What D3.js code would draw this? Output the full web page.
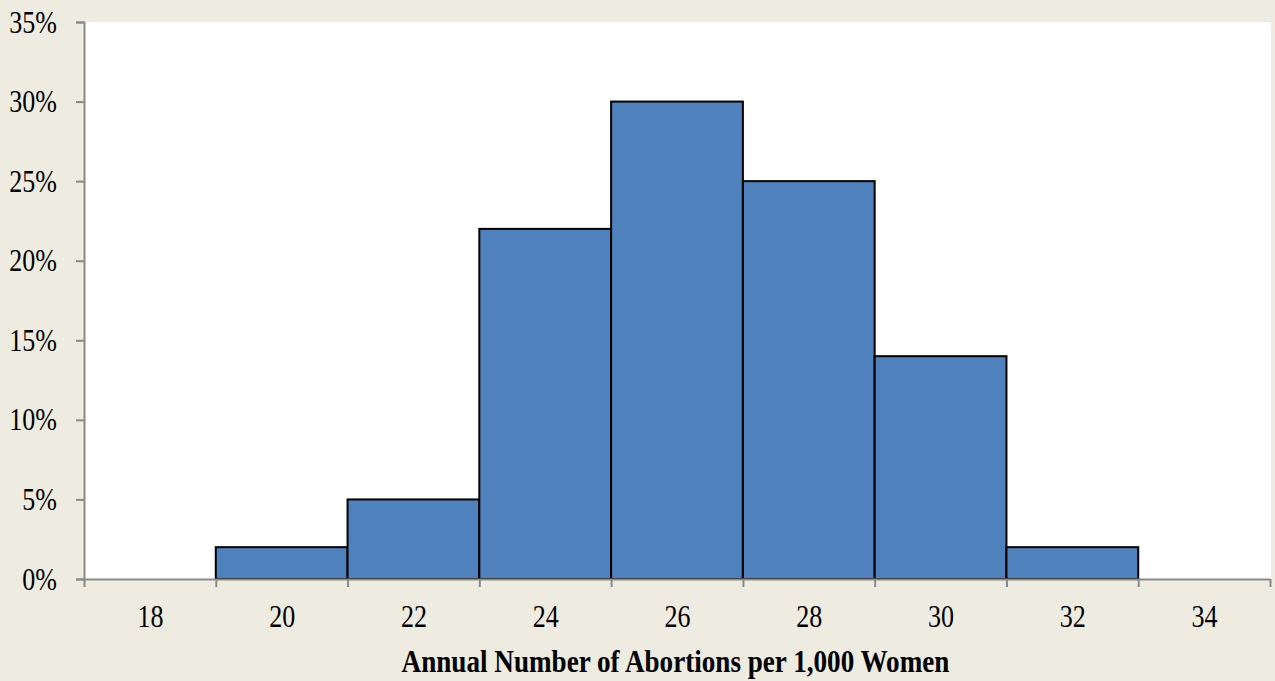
<!DOCTYPE html>
<html>
<head>
<meta charset="utf-8">
<script src="https://cdn.jsdelivr.net/npm/d3@7"></script>
<style>
  html, body { margin: 0; padding: 0; background: #EEEBE0; }
  svg { display: block; }
  text { font-family: "Liberation Serif", "Times New Roman", serif; fill: #000; }
</style>
</head>
<body>
<svg id="chart" width="1275" height="681"></svg>
<script>
// Histogram bins: centre of each bin (abortions per 1,000 women) and share of estimates
const binCenters = [18, 20, 22, 24, 26, 28, 30, 32, 34];
const shares     = [0, 0.02, 0.05, 0.22, 0.30, 0.25, 0.14, 0.02, 0];
const binWidth   = 2;
const yTicks     = [0, 0.05, 0.10, 0.15, 0.20, 0.25, 0.30, 0.35];
const xTitle     = "Annual Number of Abortions per 1,000 Women";

const svg = d3.select("#chart");
const plot = { left: 84, right: 1271, top: 22, bottom: 579 };

const x = d3.scaleLinear()
  .domain([binCenters[0] - binWidth / 2, binCenters[binCenters.length - 1] + binWidth / 2])
  .range([plot.left, plot.right - 1]);
const y = d3.scaleLinear().domain([0, 0.35]).range([plot.bottom, plot.top]);

// white plot area
svg.append("rect")
  .attr("x", plot.left).attr("y", plot.top)
  .attr("width", plot.right - plot.left).attr("height", plot.bottom - plot.top)
  .attr("fill", "#fff");

// bars
svg.append("g").selectAll("rect")
  .data(binCenters.map((c, i) => ({ c, v: shares[i] })).filter(d => d.v > 0))
  .join("rect")
  .attr("x", d => x(d.c - binWidth / 2))
  .attr("y", d => y(d.v))
  .attr("width", d => x(d.c + binWidth / 2) - x(d.c - binWidth / 2))
  .attr("height", d => y(0) - y(d.v))
  .attr("fill", "#4F81BD")
  .attr("stroke", "#000")
  .attr("stroke-width", 2);

const axisColor = "#8A8A8A";
const sx = 0.84; // narrow serif glyphs

// y axis
const yAxis = svg.append("g")
  .attr("transform", `translate(${plot.left},0)`)
  .call(d3.axisLeft(y).tickValues(yTicks).tickSize(8).tickPadding(0).tickFormat(d3.format(".0%")));
yAxis.select(".domain").attr("stroke", axisColor).attr("stroke-width", 2);
yAxis.selectAll(".tick line").attr("stroke", axisColor).attr("stroke-width", 2);
yAxis.selectAll(".tick text")
  .attr("x", null).attr("dy", null)
  .attr("transform", `translate(-27,10) scale(${sx},1)`)
  .style("font-size", "31px");

// x axis: tick marks at bin edges
const edges = d3.range(binCenters.length + 1).map(i => binCenters[0] - binWidth / 2 + i * binWidth);
const xAxis = svg.append("g")
  .attr("transform", `translate(0,${plot.bottom})`)
  .call(d3.axisBottom(x).tickValues(edges).tickSize(8).tickSizeOuter(0).tickFormat(""));
xAxis.select(".domain").attr("stroke", axisColor).attr("stroke-width", 2);
xAxis.selectAll(".tick line").attr("stroke", axisColor).attr("stroke-width", 2);

// x labels at bin centres
const xLabels = svg.append("g")
  .attr("transform", `translate(0,${plot.bottom})`)
  .call(d3.axisBottom(x).tickValues(binCenters).tickSize(0).tickFormat(d3.format("d")));
xLabels.select(".domain").remove();
xLabels.selectAll(".tick text")
  .attr("y", null).attr("dy", null)
  .attr("transform", `translate(0,48) scale(${sx},1)`)
  .attr("text-anchor", "middle")
  .style("font-size", "31px");

// x axis title
svg.append("text")
  .attr("transform", `translate(675.5,672) scale(0.835,1)`)
  .attr("text-anchor", "middle")
  .style("font-size", "32.5px")
  .style("font-weight", "bold")
  .text(xTitle);
</script>
</body>
</html>
